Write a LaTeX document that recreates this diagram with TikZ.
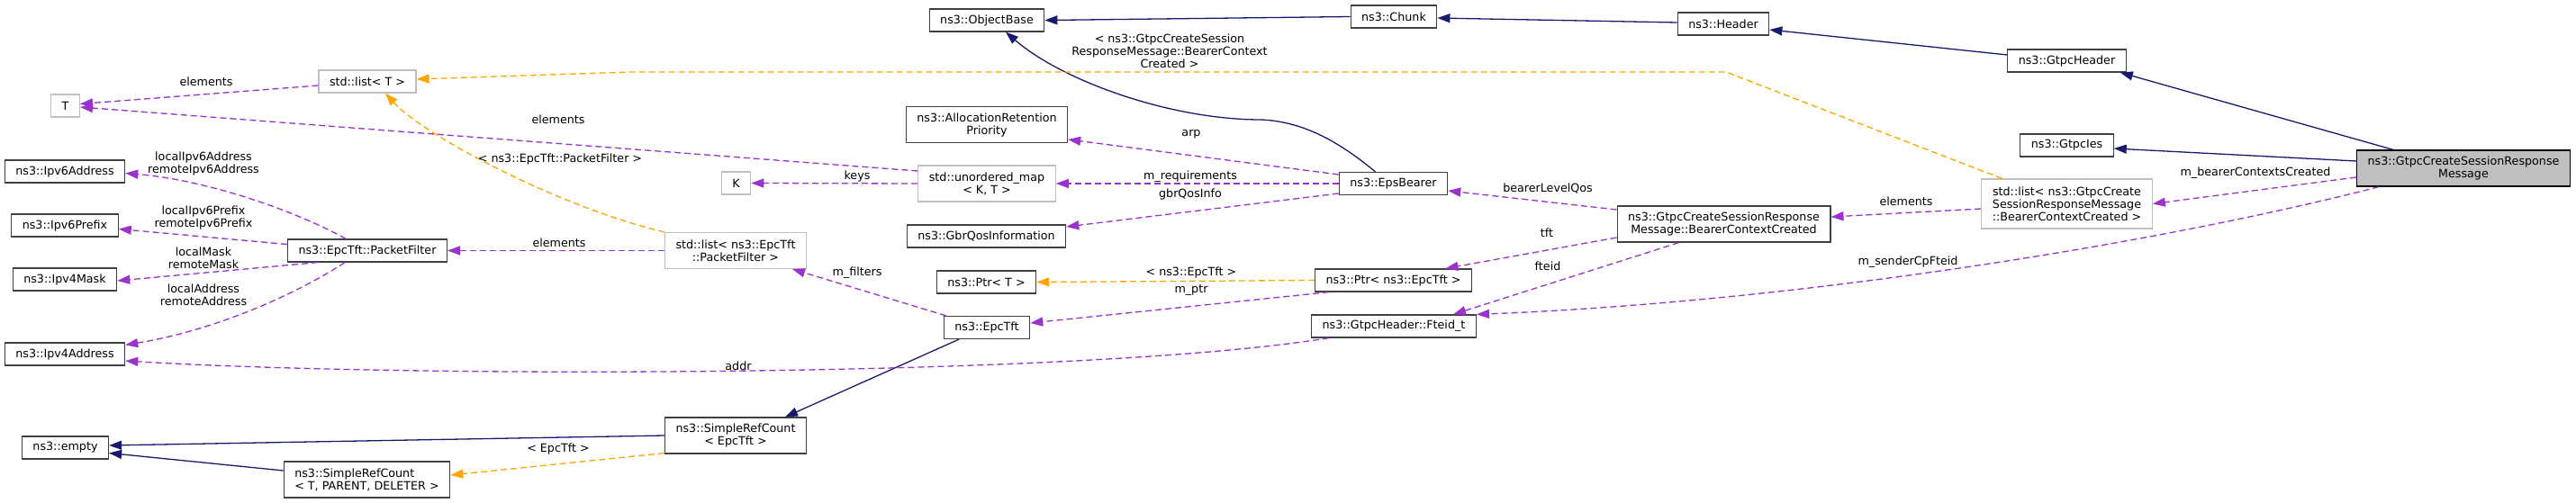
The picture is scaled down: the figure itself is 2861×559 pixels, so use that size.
\documentclass[tikz,border=0pt]{standalone}
\usepackage{fontspec}
\setmainfont{DejaVu Sans}
\usetikzlibrary{arrows.meta, positioning, calc}
\definecolor{inhblue}{HTML}{191970}
\definecolor{useorchid}{HTML}{9A32CD}
\definecolor{tmplorange}{HTML}{FFA500}
\definecolor{undocgrey}{HTML}{BFBFBF}
\definecolor{docgrey}{HTML}{404040}

\begin{document}
\begin{tikzpicture}[
    x=1pt, y=-1pt,
    font=\fontsize{12.7}{14}\selectfont,
    cls/.style={draw=docgrey, fill=white, line width=1.2pt, inner xsep=12pt, inner ysep=0pt, minimum height=25pt, align=center},
    undoc/.style={cls, draw=undocgrey},
    mainclass/.style={cls, draw=black, fill=undocgrey},
    two/.style={minimum height=40pt},
    three/.style={minimum height=55pt},
    inherit/.style={draw=inhblue, line width=1.3pt, -{Triangle[length=14pt, width=10pt]}},
    member/.style={draw=useorchid, line width=1.3pt, dash pattern=on 7pt off 4pt, -{Triangle[length=14pt, width=10pt]}},
    instance/.style={member, draw=tmplorange},
    lbl/.style={inner sep=0pt, align=center}
]
\useasboundingbox (0,0) rectangle (2861,559);

% Leaf classes
\node[undoc] (T) at (72.5,117.5) {T};
\node[cls] (ipv6addr) at (72,190.5) {ns3::Ipv6Address};
\node[cls] (ipv6pfx) at (72,250.5) {ns3::Ipv6Prefix};
\node[cls] (ipv4mask) at (72,310.5) {ns3::Ipv4Mask};
\node[cls] (ipv4addr) at (72,393.5) {ns3::Ipv4Address};
\node[cls] (empty) at (72.5,497.5) {ns3::empty};

% Second column
\node[undoc] (listT) at (408,90.5) {std::list< T >};
\node[cls] (pfilter) at (408,278.5) {ns3::EpcTft::PacketFilter};
\node[cls, two, align=left] (srctpd) at (407.5,533) {ns3::SimpleRefCount\\< T, PARENT, DELETER >};

% Third column
\node[undoc] (K) at (817.5,203.5) {K};
\node[undoc, two] (listpf) at (817,278.5) {std::list< ns3::EpcTft\\::PacketFilter >};
\node[cls, two] (srcepc) at (817,484) {ns3::SimpleRefCount\\< EpcTft >};

% Fourth column
\node[cls] (objbase) at (1096,22.5) {ns3::ObjectBase};
\node[cls, two] (arp) at (1096,138.5) {ns3::AllocationRetention\\Priority};
\node[undoc, two] (umap) at (1096,204) {std::unordered\_map\\< K, T >};
\node[cls] (gbrqos) at (1095.5,262.5) {ns3::GbrQosInformation};
\node[cls] (ptrT) at (1095.5,313.5) {ns3::Ptr< T >};
\node[cls] (epctft) at (1096,364) {ns3::EpcTft};

% Fifth column
\node[cls] (chunk) at (1548,18.5) {ns3::Chunk};
\node[cls] (epsb) at (1547.5,204) {ns3::EpsBearer};
\node[cls] (ptrepc) at (1547.5,311.5) {ns3::Ptr< ns3::EpcTft >};
\node[cls] (fteid) at (1548,362.5) {ns3::GtpcHeader::Fteid\_t};

% Sixth column
\node[cls] (header) at (1914,26.5) {ns3::Header};
\node[cls, two] (bcc) at (1914.5,249) {ns3::GtpcCreateSessionResponse\\Message::BearerContextCreated};

% Seventh column
\node[cls] (gtpch) at (2295.5,67.5) {ns3::GtpcHeader};
\node[cls] (gtpcies) at (2295.5,161.5) {ns3::GtpcIes};
\node[undoc, three] (listbcc) at (2295.5,226.5) {std::list< ns3::GtpcCreate\\SessionResponseMessage\\::BearerContextCreated >};

% Main class
\node[mainclass, two] (main) at (2736,187) {ns3::GtpcCreateSessionResponse\\Message};

% Inheritance
\draw[inherit] ([xshift=-78pt]main.north) -- ([xshift=-7pt]gtpch.south east);
\draw[inherit] ([yshift=8pt]main.west) -- ([yshift=-3.5pt]gtpcies.east);
\draw[inherit] ([yshift=6.5pt]gtpch.west) -- ([yshift=-6.5pt]header.east);
\draw[inherit] ([yshift=1.5pt]header.west) -- ([yshift=-1.5pt]chunk.east);
\draw[inherit] (chunk.west) -- (objbase.east);
\draw[inherit] ([xshift=-20pt]epsb.north) .. controls (1490,160) and (1450,135) .. (1400,133)
    .. controls (1300,133) and (1180,90) .. ([xshift=21pt]objbase.south);
\draw[inherit] ([xshift=-31pt]epctft.south) -- ([xshift=55pt]srcepc.north);
\draw[inherit] (srcepc.west) -- ([yshift=2.5pt]empty.east);
\draw[inherit] ([yshift=10pt]srctpd.west) -- ([yshift=-6pt]empty.east);

% Members
\draw[member] ([yshift=-10pt]main.west) -- (listbcc.east)
    node[lbl] (lbcclist) at (2505,192) {m\_bearerContextsCreated};
\draw[member] ([xshift=25pt]main.south west) .. controls (2400,270) and (2000,335) .. (fteid.north east)
    node[lbl] (lsender) at (2119,291) {m\_senderCpFteid};
\draw[member] ([yshift=-5.5pt]listbcc.west) -- ([yshift=8pt]bcc.east)
    node[lbl] (lelembcc) at (2117,224) {elements};
\draw[member] ([yshift=16pt]bcc.west) -- ([yshift=-8pt]epsb.east)
    node[lbl] (lqos) at (1719,209) {bearerLevelQos};
\draw[member] ([yshift=-15pt]bcc.west) -- ([xshift=58pt]ptrepc.north)
    node[lbl] (ltft) at (1718,259) {tft};
\draw[member] ([xshift=-50pt]bcc.south) -- ([xshift=66pt]fteid.north)
    node[lbl] (lfteid) at (1719,296) {fteid};
\draw[member] ([yshift=10pt]epsb.west) -- ([yshift=-16.5pt]arp.east)
    node[lbl] (larp) at (1323,149) {arp};
\draw[member] (epsb.west) -- (umap.east)
    node[lbl] (lreq) at (1322,196) {m\_requirements};
\draw[member] ([yshift=-11pt]epsb.west) -- ([yshift=10.5pt]gbrqos.east)
    node[lbl] (lgbr) at (1322,216) {gbrQosInfo};
\draw[member] ([xshift=16pt]ptrepc.south west) -- ([yshift=5pt]epctft.east)
    node[lbl] (lptr) at (1323,323) {m\_ptr};
\draw[member] ([xshift=3pt]epctft.north west) -- ([xshift=-16pt]listpf.south east)
    node[lbl] (lfilters) at (952,303) {m\_filters};
\draw[member] ([xshift=20pt]fteid.south west) .. controls (1200,420) and (450,420) .. ([yshift=-7.5pt]ipv4addr.east)
    node[lbl] (laddr) at (820,407) {addr};
\draw[member] (listpf.west) -- (pfilter.east)
    node[lbl] (lelempf) at (621,270) {elements};
\draw[member] ([yshift=14pt]umap.west) -- ([yshift=-1.5pt]T.east)
    node[lbl] (lelemmap) at (620,133) {elements};
\draw[member] (umap.west) -- (K.east)
    node[lbl] (lkeys) at (952,196) {keys};
\draw[member] ([yshift=-4.5pt]listT.west) -- ([yshift=2pt]T.east)
    node[lbl] (lelemlist) at (229,91) {elements};
\draw[member] ([xshift=-24pt]pfilter.north) .. controls (330,235) and (230,200) .. ([yshift=-2pt]ipv6addr.east)
    node[lbl] (lv6addr) at (226,182) {localIpv6Address\\remoteIpv6Address};
\draw[member] ([yshift=7pt]pfilter.west) -- ([yshift=-4pt]ipv6pfx.east)
    node[lbl] (lv6pfx) at (226,242) {localIpv6Prefix\\remoteIpv6Prefix};
\draw[member] ([xshift=-55pt]pfilter.south) -- ([yshift=-1.5pt]ipv4mask.east)
    node[lbl] (lmask) at (226,287) {localMask\\remoteMask};
\draw[member] ([xshift=-25pt]pfilter.south) .. controls (340,320) and (250,365) .. ([yshift=-3pt]ipv4addr.north east)
    node[lbl] (lv4addr) at (226,328) {localAddress\\remoteAddress};

% Template instances
\draw[instance] ([xshift=-72pt]listbcc.north) -- (1917,80) -- (700,80) -- ([yshift=2.5pt]listT.east)
    node[lbl] (lbcctmpl) at (1299,57) {< ns3::GtpcCreateSession\\ResponseMessage::BearerContext\\Created >};
\draw[instance] (listpf.north west) .. controls (620,230) and (470,150) .. ([xshift=20pt]listT.south)
    node[lbl] (lpftmpl) at (622,177) {< ns3::EpcTft::PacketFilter >};
\draw[instance] (ptrepc.west) -- (ptrT.east)
    node[lbl] (lptrtmpl) at (1323,303) {< ns3::EpcTft >};
\draw[instance] ([yshift=1pt]srcepc.south west) -- ([yshift=5pt]srctpd.east)
    node[lbl] (lsrctmpl) at (620,499) {< EpcTft >};

\end{tikzpicture}
\end{document}
